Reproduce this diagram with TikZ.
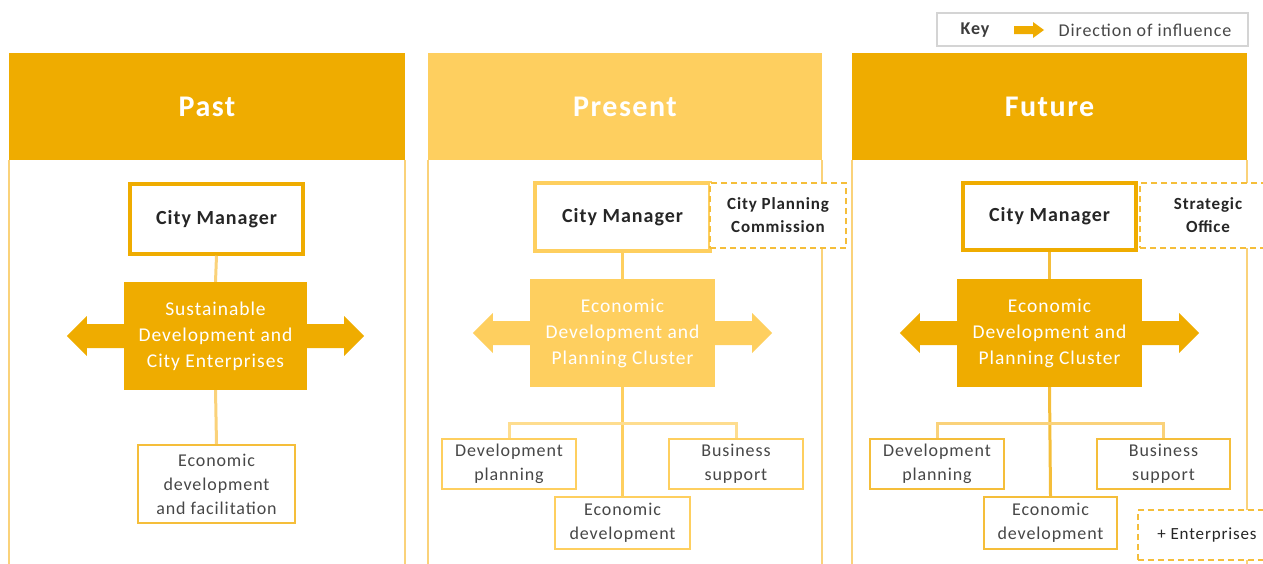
\documentclass[tikz,border=0pt]{standalone}
\usepackage{fontspec}
\setmainfont{Carlito}[LetterSpace=5]
\usetikzlibrary{calc}
\definecolor{gold}{HTML}{EFAC00}
\definecolor{lgold}{HTML}{FECF5F}
\definecolor{pale}{HTML}{FAD27A}
\definecolor{mgold}{HTML}{F5BE3A}
\definecolor{txt}{HTML}{262626}
\definecolor{keygray}{HTML}{D4D4D4}
\newcommand\inflarrow[3]{%
  \fill[#3] ($(#1)+(-#2*2,-12)$) -- ($(#1)+(#2*37,-12)$) -- ($(#1)+(#2*37,-20)$) --
    ($(#1)+(#2*57,0)$) -- ($(#1)+(#2*37,20)$) -- ($(#1)+(#2*37,12)$) -- ($(#1)+(-#2*2,12)$) -- cycle;}
\begin{document}
\begin{tikzpicture}[x=1pt,y=-1pt,
  header/.style={fill=#1, draw=none, text=white, minimum height=107pt,
     font=\fontsize{30}{36}\selectfont\bfseries, inner sep=0pt},
  cmbox/.style={draw=#1, line width=3.5pt, fill=white, text=txt,
     font=\fontsize{20}{24}\selectfont\bfseries, inner sep=0pt},
  clubox/.style={fill=#1, draw=none, text=white, align=center,
     minimum width=185pt, minimum height=108pt,
     font=\fontsize{19.5}{26}\selectfont, inner sep=0pt},
  smallbox/.style={draw=#1, line width=2.2pt, fill=white, text=txt!85, align=center,
     minimum width=134pt, minimum height=50pt,
     font=\fontsize{18}{24}\selectfont, inner sep=0pt},
  dashbox/.style={draw=mgold, line width=2pt, dash pattern=on 6pt off 4pt, fill=white,
     text=txt, align=center, minimum width=136pt, minimum height=65pt,
     font=\fontsize{17}{23}\selectfont\bfseries, inner sep=0pt},
  panelline/.style={draw=pale, line width=2.5pt},
  conn/.style={draw=#1, line width=3pt},
]
\useasboundingbox (0,0) rectangle (1263,563);
\clip (0,0) rectangle (1263,563);

% key
\node[draw=keygray, line width=1.2pt, fill=white, minimum width=311pt, minimum height=33pt, inner sep=0pt] (key) at (1092.5,29.5) {};
\node[font=\fontsize{18}{20}\selectfont\bfseries, text=txt!90] (keyt) at (975,30) {Key};
\node[font=\fontsize{18}{20}\selectfont, text=txt!85] (keyd) at (1145,30) {Direction of influence};
\coordinate (ka) at (1014,30);
\fill[gold] ($(ka)+(0,-4)$) -- ($(ka)+(19,-4)$) -- ($(ka)+(19,-8)$) -- ($(ka)+(30,0)$) --
  ($(ka)+(19,8)$) -- ($(ka)+(19,4)$) -- ($(ka)+(0,4)$) -- cycle;

% panels
\draw[panelline] (9,160) -- (9,575) (405,160) -- (405,575);
\draw[panelline] (428,160) -- (428,575) (822,160) -- (822,575);
\draw[panelline] (852,160) -- (852,575) (1247,160) -- (1247,575);
\node[header=gold, minimum width=396pt] (hpast) at (207,106.5) {Past};
\node[header=lgold, minimum width=394pt] (hpres) at (625,106.5) {Present};
\node[header=gold, minimum width=395pt] (hfut) at (1049.5,106.5) {Future};

% ---------- Past ----------
\node[cmbox=gold, minimum width=173pt, minimum height=70pt] (pcm) at (216.5,219) {City Manager};
\node[clubox=gold, minimum width=183pt] (psus) at (215.5,336) {Sustainable\\Development and\\City Enterprises};
\node[smallbox=mgold, minimum width=157pt, minimum height=78pt] (pecon) at (216.5,484) {Economic\\development\\and facilitation};
\draw[conn=pale] (pcm.south) -- (psus.north);
\draw[conn=pale] (psus.south) -- (pecon.north);
\inflarrow{psus.west}{-1}{gold}
\inflarrow{psus.east}{1}{gold}

% ---------- Present ----------
\node[cmbox=lgold, minimum width=175pt, minimum height=68pt] (rcm) at (622.5,217) {City Manager};
\node[dashbox] (rcpc) at (778,215.5) {City Planning\\Commission};
\node[clubox=lgold] (rclu) at (622.5,333) {Economic\\Development and\\Planning Cluster};
\node[smallbox=lgold] (rdev) at (509,464) {Development\\planning};
\node[smallbox=lgold] (rbus) at (736,464) {Business\\support};
\node[smallbox=lgold, minimum width=135pt, minimum height=52pt] (reco) at (622.5,523) {Economic\\development};
\draw[conn=lgold] (rcm.south) -- (rclu.north);
\draw[conn=lgold] (rclu.south) -- (reco.north);
\draw[conn=lgold!70] (rdev.north) -- ++(0,-14) -| (rbus.north);
\inflarrow{rclu.west}{-1}{lgold}
\inflarrow{rclu.east}{1}{lgold}

% ---------- Future ----------
\node[cmbox=gold, minimum width=173pt, minimum height=67pt] (fcm) at (1049.5,216.5) {City Manager};
\node[dashbox] (fso) at (1208,215.5) {Strategic\\Office};
\node[clubox=gold] (fclu) at (1049.5,333) {Economic\\Development and\\Planning Cluster};
\node[smallbox=mgold] (fdev) at (937,464) {Development\\planning};
\node[smallbox=mgold, minimum width=133pt] (fbus) at (1163.5,464) {Business\\support};
\node[smallbox=mgold, minimum width=133pt, minimum height=52pt] (feco) at (1050.5,523) {Economic\\development};
\node[dashbox, minimum width=138pt, minimum height=50pt, font=\fontsize{17}{23}\selectfont] (fent) at (1207,535) {+ Enterprises};
\draw[conn=mgold] (fcm.south) -- (fclu.north);
\draw[conn=mgold] (fclu.south) -- (feco.north);
\draw[conn=pale] (fdev.north) -- ++(0,-14) -| (fbus.north);
\inflarrow{fclu.west}{-1}{gold}
\inflarrow{fclu.east}{1}{gold}
\end{tikzpicture}
\end{document}
